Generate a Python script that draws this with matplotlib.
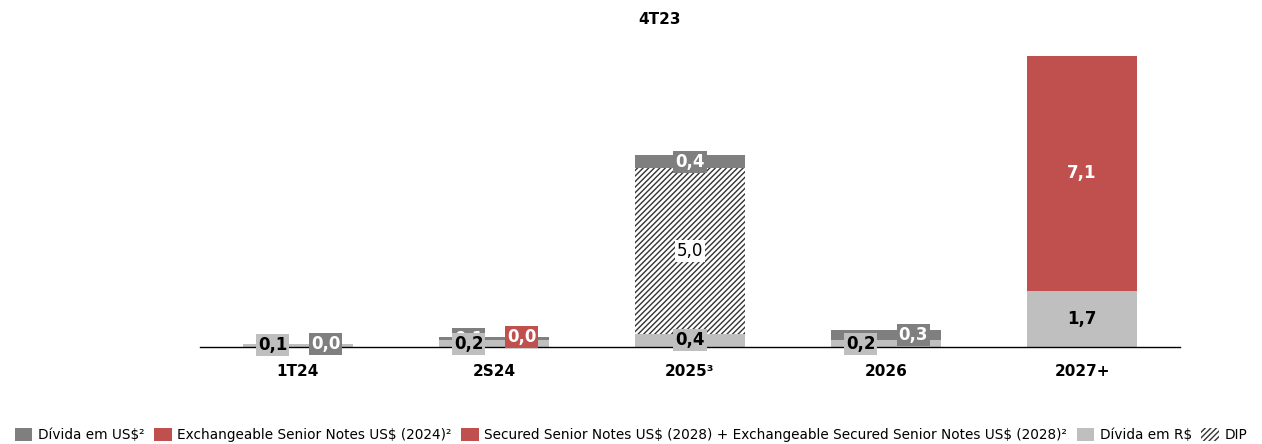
import numpy as np
import matplotlib.pyplot as plt
from matplotlib.patches import Patch

categories = ['1T24', '2S24', '2025³', '2026', '2027+']

# np.nan = segment not present (no label); 0.0 = present but rounds to zero
divida_rs = [0.1, 0.2, 0.4, 0.2, 1.7]
dip = [np.nan, np.nan, 5.0, np.nan, np.nan]
divida_us = [0.0, 0.1, 0.4, 0.3, np.nan]
exch_2024 = [np.nan, 0.0, np.nan, np.nan, np.nan]
secured_2028 = [np.nan, np.nan, np.nan, np.nan, 7.1]

series = [
    # name, values, face, text colour, box colour, hatch
    ('Dívida em R$', divida_rs, '#BFBFBF', 'black', '#BFBFBF', None),
    ('DIP', dip, 'white', 'black', 'white', '//////'),
    ('Dívida em US$', divida_us, '#7F7F7F', 'white', '#7F7F7F', None),
    ('Exchangeable 2024', exch_2024, '#C0504D', 'white', '#C0504D', None),
    ('Secured 2028', secured_2028, '#C0504D', 'white', None, None),
]

plt.rcParams['hatch.linewidth'] = 1.0
fig = plt.figure(figsize=(12.62, 4.44), dpi=100)
ax = fig.add_axes([200 / 1262, (444 - 347) / 444, 980 / 1262, (347 - 56) / 444])

x = np.arange(len(categories))
width = 0.56
bottom = np.zeros(len(categories))
labels = []
for name, vals, face, tcol, bcol, hatch in series:
    v = np.nan_to_num(np.array(vals, dtype=float))
    ax.bar(x, v, width, bottom=bottom, color=face, hatch=hatch,
           edgecolor='#333333' if hatch else face, linewidth=0)
    for i, val in enumerate(vals):
        if not np.isnan(val):
            labels.append((i, name, val, bottom[i] + v[i] / 2, tcol, bcol))
    bottom += v

totals = bottom.copy()
for i in range(len(categories)):
    lab = [l for l in labels if l[0] == i]
    small = totals[i] < 1
    for k, (ci, name, val, yc, tcol, bcol) in enumerate(lab):
        dx = 0
        if small:
            dx = 0.14 if k == len(lab) - 1 else -0.13
        txt = f'{val:.1f}'.replace('.', ',')
        weight = 'normal' if name == 'DIP' else 'bold'
        if name == 'Secured 2028' or (name == 'Dívida em R$' and val > 1):
            bbox = None
        else:
            bbox = dict(boxstyle='square,pad=0.12', fc=bcol, ec='none')
        ax.text(ci + dx, yc, txt, ha='center', va='center', fontsize=12,
                color=tcol, fontweight=weight, bbox=bbox,
                zorder=5 if name == 'Dívida em R$' else 4)

ax.set_xlim(-0.5, 4.5)
ax.set_ylim(0, 8.8)
for s in ['top', 'right', 'left']:
    ax.spines[s].set_visible(False)
ax.spines['bottom'].set_linewidth(1.0)
ax.set_yticks([])
ax.set_xticks(x)
ax.set_xticklabels(categories, fontsize=11, fontweight='bold')
ax.tick_params(axis='x', length=0, pad=12)

fig.text(660 / 1262, 1 - 20 / 444, '4T23', ha='center', va='center',
         fontsize=11, fontweight='bold')

handles = [
    Patch(facecolor='#7F7F7F', label='Dívida em US\\$²'),
    Patch(facecolor='#C0504D', label='Exchangeable Senior Notes US\\$ (2024)²'),
    Patch(facecolor='#C0504D', label='Secured Senior Notes US\\$ (2028) + Exchangeable Secured Senior Notes US\\$ (2028)²'),
    Patch(facecolor='#BFBFBF', label='Dívida em R\\$'),
    Patch(facecolor='white', hatch='//////', edgecolor='#333333', linewidth=0, label='DIP'),
]
fig.legend(handles=handles, loc='center', bbox_to_anchor=(0.5, 1 - 435 / 444),
           ncol=5, frameon=False, fontsize=9.8, handlelength=1.3, handleheight=1.1,
           handletextpad=0.4, columnspacing=0.7)

fig.savefig('out.png', dpi=100)
